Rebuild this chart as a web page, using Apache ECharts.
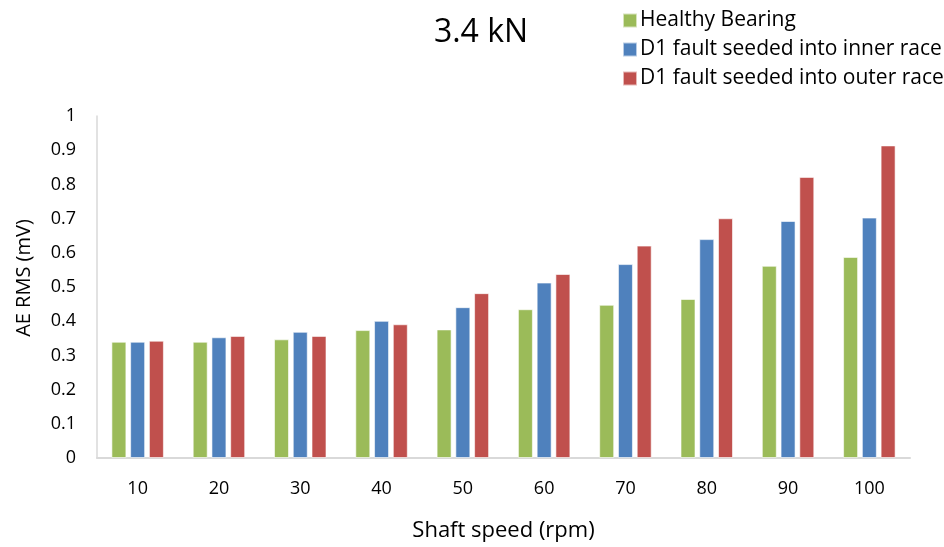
<!DOCTYPE html>
<html>
<head>
<meta charset="utf-8">
<script src="https://cdn.jsdelivr.net/npm/echarts@6/dist/echarts.min.js"></script>
<style>
  html, body { margin: 0; padding: 0; background: #fff; }
  #chart { width: 944px; height: 547px; }
</style>
</head>
<body>
<div id="chart"></div>
<script>
// Shaft speeds (rpm) on the category axis
var speeds = ['10', '20', '30', '40', '50', '60', '70', '80', '90', '100'];

// AE RMS values (mV) for each bearing condition
var healthy = [0.340, 0.340, 0.347, 0.374, 0.376, 0.435, 0.448, 0.465, 0.562, 0.588];
var innerRace = [0.340, 0.353, 0.369, 0.401, 0.441, 0.513, 0.567, 0.640, 0.693, 0.703];
var outerRace = [0.343, 0.357, 0.357, 0.391, 0.482, 0.538, 0.621, 0.701, 0.822, 0.914];

var seriesNames = ['Healthy Bearing', 'D1 fault seeded into inner race', 'D1 fault seeded into outer race'];
var seriesColors = ['#9BBB59', '#4F81BD', '#C0504D'];

var FONT = '"Open Sans", "Liberation Sans", sans-serif';

var chart = echarts.init(document.getElementById('chart'));

function barSeries(idx, values) {
  return {
    name: seriesNames[idx],
    type: 'bar',
    data: values,
    barWidth: 15,
    barGap: '25%',
    itemStyle: { color: seriesColors[idx], borderColor: 'rgba(255,255,255,0.6)', borderWidth: 1 }
  };
}

chart.setOption({
  animation: false,
  backgroundColor: '#ffffff',
  title: {
    text: '3.4 kN',
    left: 476,
    top: 12,
    textAlign: 'center',
    textStyle: { fontFamily: FONT, fontSize: 32, fontWeight: 'normal', color: '#000' }
  },
  legend: {
    orient: 'vertical',
    left: 617,
    top: 5,
    itemWidth: 14,
    itemHeight: 14,
    itemGap: 8,
    icon: 'rect',
    textStyle: { fontFamily: FONT, fontSize: 21, color: '#000', padding: [0, 0, 0, -2] },
    data: seriesNames
  },
  grid: { left: 97, right: 34, top: 116, bottom: 87, containLabel: false },
  xAxis: {
    type: 'category',
    data: speeds,
    name: 'Shaft speed (rpm)',
    nameLocation: 'middle',
    nameGap: 62,
    nameTextStyle: { fontFamily: FONT, fontSize: 22, color: '#000' },
    axisLine: { lineStyle: { color: '#d9d9d9', width: 2 } },
    axisTick: { show: false },
    axisLabel: { fontFamily: FONT, fontSize: 18, color: '#000', margin: 22 }
  },
  yAxis: {
    type: 'value',
    min: 0,
    max: 1,
    interval: 0.1,
    name: 'AE RMS (mV)',
    nameLocation: 'middle',
    nameGap: 63,
    nameRotate: 90,
    nameTextStyle: { fontFamily: FONT, fontSize: 20, color: '#000', padding: [0, 0, 0, 18] },
    axisLine: { show: true, lineStyle: { color: '#d9d9d9', width: 1.5 } },
    axisTick: { show: false },
    splitLine: { show: false },
    axisLabel: {
      fontFamily: FONT, fontSize: 18, color: '#000', margin: 21,
      formatter: function (v) { return String(Math.round(v * 10) / 10); }
    }
  },
  series: [
    barSeries(0, healthy),
    barSeries(1, innerRace),
    barSeries(2, outerRace)
  ]
});
</script>
</body>
</html>
